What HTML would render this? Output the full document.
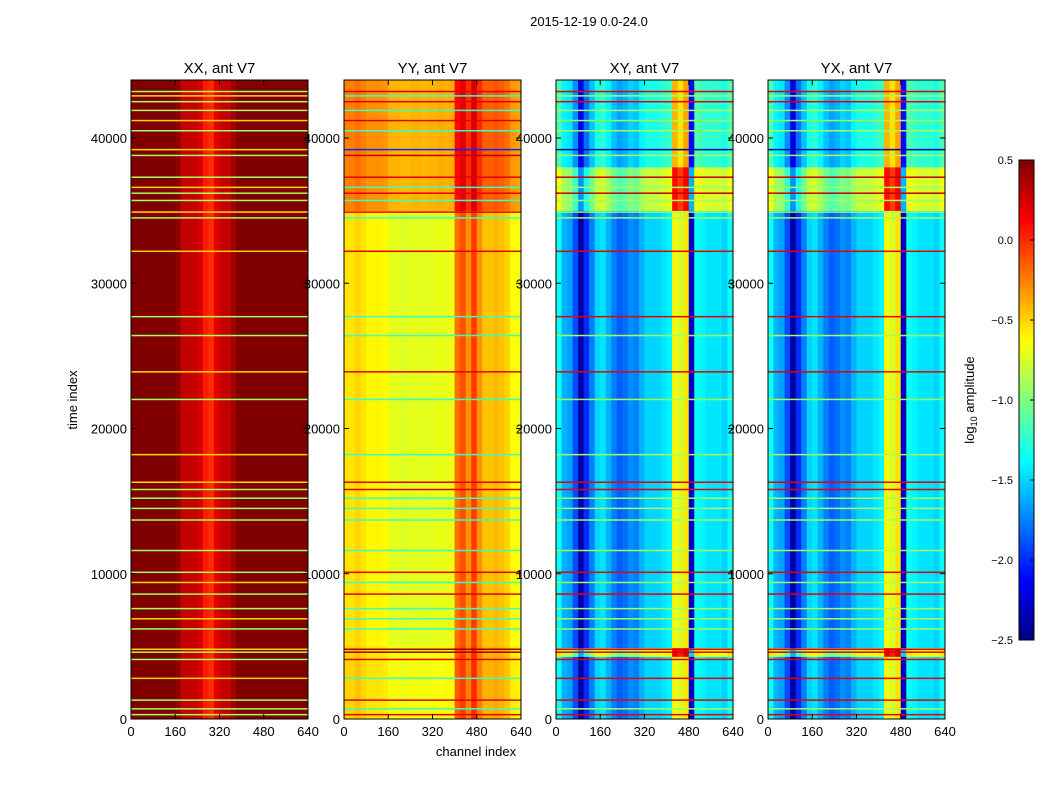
<!DOCTYPE html>
<html><head><meta charset="utf-8">
<style>
html,body{margin:0;padding:0;background:#fff;}
svg{display:block;font-family:"Liberation Sans",sans-serif;}
</style></head>
<body>
<svg id="fig" width="1050" height="800" viewBox="0 0 1050 800">
<text x="589" y="26" font-size="13" text-anchor="middle">2015-12-19 0.0-24.0</text>
<text x="77" y="400" font-size="13" text-anchor="middle" transform="rotate(-90 77 400)">time index</text>
<text x="476" y="756" font-size="13" text-anchor="middle">channel index</text>
</svg>
<script>
// ---- data ----
const panelTitles = ["XX, ant V7","YY, ant V7","XY, ant V7","YX, ant V7"];
const xTicks = [0,160,320,480,640];
const yTicks = [0,10000,20000,30000,40000];
const cbTicks = [0.5,0.0,-0.5,-1.0,-1.5,-2.0,-2.5];
const cbTickLabels = ["0.5","0.0","\u22120.5","\u22121.0","\u22121.5","\u22122.0","\u22122.5"];
// channel profiles, 32 bins of 20 channels
const profXX = [0.5,0.5,0.5,0.5,0.5,0.5,0.5,0.5,0.45,0.3,0.3,0.3,0.25,0.05,0.0,0.2,0.3,0.3,0.4,0.5,0.5,0.5,0.5,0.5,0.5,0.5,0.5,0.5,0.5,0.5,0.5,0.5];
const profYY = [-0.55,-0.55,-0.5,-0.55,-0.6,-0.6,-0.6,-0.62,-0.7,-0.7,-0.72,-0.72,-0.7,-0.7,-0.72,-0.7,-0.7,-0.68,-0.7,-0.68,-0.2,-0.1,-0.3,-0.05,-0.3,-0.45,-0.45,-0.42,-0.45,-0.5,-0.62,-0.65];
const profXY = [-1.35,-1.6,-1.65,-1.9,-2.4,-2.0,-1.75,-1.5,-1.45,-1.6,-1.75,-1.85,-1.8,-1.7,-1.75,-1.6,-1.5,-1.5,-1.5,-1.45,-1.4,-0.6,-0.75,-0.55,-2.3,-1.35,-1.4,-1.45,-1.45,-1.45,-1.5,-1.35];
const profYX = [-1.35,-1.6,-1.65,-1.9,-2.4,-2.0,-1.75,-1.5,-1.45,-1.6,-1.75,-1.85,-1.8,-1.7,-1.75,-1.6,-1.5,-1.5,-1.5,-1.45,-1.4,-0.6,-0.75,-0.55,-2.3,-1.35,-1.4,-1.45,-1.45,-1.45,-1.5,-1.35];
// time bands: start, end, offset
const bandStartXX = [], bandEndXX = [], bandOffXX = [];
const bandStartYY = [35000,0], bandEndYY = [44000,5000], bandOffYY = [0.3,0.05];
const bandStartXY = [38000,35000,4300], bandEndXY = [44000,38000,4900], bandOffXY = [0.2,0.7,0.8];
const bandStartYX = [38000,35000,4300], bandEndYX = [44000,38000,4900], bandOffYX = [0.2,0.7,0.8];
// horizontal flagged lines
const lineTimes = [43200,42900,42500,41900,41200,40500,39200,38800,37300,36600,36200,35700,34900,34500,32200,27700,26400,23900,22000,18200,16300,15800,15200,14500,13700,11600,10100,9400,8600,7600,6900,6200,4800,4600,4100,2800,1300,700,300];
const lineXX = [-0.9,-0.5,-0.9,-0.9,-0.5,-0.9,-0.5,-0.9,-0.9,-0.5,-0.9,-0.9,-0.5,-0.9,-0.5,-0.9,-0.9,-0.5,-0.9,-0.5,-0.5,-0.9,-0.9,-0.9,-0.9,-0.9,-0.9,-0.5,-0.9,-0.9,-0.5,-0.9,-0.5,-0.9,-0.9,-0.5,-0.9,-0.9,-0.9];
const lineYY = [0.2,-1.2,0.2,-1.2,0.2,-1.2,-2.0,0.3,0.2,-1.2,0.2,-1.2,0.2,-1.2,0.2,-1.2,-1.2,0.2,-1.2,-1.2,0.2,0.2,-1.2,-1.2,-1.2,-1.2,0.2,-1.2,0.2,-1.2,-1.2,-1.2,0.4,0.4,0.2,-1.2,0.2,-1.2,0.2];
const lineXY = [0.2,-0.9,0.2,-0.9,-0.9,-0.9,-2.4,-0.9,0.3,-0.9,0.3,-0.9,-0.9,-0.9,0.2,0.2,-0.9,0.2,-0.9,-0.9,0.2,0.2,-0.9,-0.9,-0.9,-0.9,0.2,-0.9,0.2,-0.9,-0.9,-0.9,0.2,0.2,0.2,0.2,0.2,-0.9,0.2];
const lineYX = [0.2,-0.9,0.2,-0.9,-0.9,-0.9,-2.4,-0.9,0.3,-0.9,0.3,-0.9,-0.9,-0.9,0.2,0.2,-0.9,0.2,-0.9,-0.9,0.2,0.2,-0.9,-0.9,-0.9,-0.9,0.2,-0.9,0.2,-0.9,-0.9,-0.9,0.2,0.2,0.2,0.2,0.2,-0.9,0.2];

const NS="http://www.w3.org/2000/svg";
const svg=document.getElementById("fig");
const vmin=-2.5, vmax=0.5;
function jet(v){
  let t=(v-vmin)/(vmax-vmin); t=Math.max(0,Math.min(1,t));
  const r=Math.max(0,Math.min(1,1.5-Math.abs(4*t-3)));
  const g=Math.max(0,Math.min(1,1.5-Math.abs(4*t-2)));
  const b=Math.max(0,Math.min(1,1.5-Math.abs(4*t-1)));
  return `rgb(${Math.round(r*255)},${Math.round(g*255)},${Math.round(b*255)})`;
}
function el(tag,attrs,parent){const e=document.createElementNS(NS,tag);for(const k in attrs)e.setAttribute(k,attrs[k]);(parent||svg).appendChild(e);return e;}

const panelX=[131,344,556,768], pw=177, py0=80, py1=719, tMax=(719-80)/145.25*10000;
const profs=[profXX,profYY,profXY,profYX];
const bands=[[bandStartXX,bandEndXX,bandOffXX],[bandStartYY,bandEndYY,bandOffYY],[bandStartXY,bandEndXY,bandOffXY],[bandStartYX,bandEndYX,bandOffYX]];
const lines=[lineXX,lineYY,lineXY,lineYX];
const names=["xx","yy","xy","yx"];

panelX.forEach((px,p)=>{
  const g=el("g",{});
  
  
  const xS=c=>px+c/640*pw;
  const yS=t=>py1-t/tMax*(py1-py0);
  const [bs,be,bo]=bands[p];
  let edges=[0,tMax];
  bs.forEach((s,i)=>{edges.push(s,Math.min(be[i],tMax));});
  edges=[...new Set(edges)].sort((a,b)=>a-b);
  for(let k=0;k<edges.length-1;k++){
    const t0=edges[k],t1=edges[k+1],tm=(t0+t1)/2;
    let off=0; bs.forEach((s,i)=>{if(tm>=s&&tm<be[i])off=bo[i];});
    profs[p].forEach((v,i)=>{
      const r=el("rect",{x:xS(i*20).toFixed(2),y:yS(t1).toFixed(2),width:(pw/32+0.4).toFixed(2),height:(yS(t0)-yS(t1)+0.3).toFixed(2),fill:jet(v+off)},g);
      
      
    });
  }
  lineTimes.forEach((t,i)=>{
    const r=el("rect",{x:px,y:(yS(t)-0.75).toFixed(2),width:pw,height:1.5,fill:jet(lines[p][i])},g);
    
    
  });
  el("rect",{x:px,y:py0,width:pw,height:py1-py0,fill:"none",stroke:"#000","stroke-width":1},g);
  const tt=el("text",{x:px+pw/2,y:73,"font-size":15,"text-anchor":"middle"},g); tt.textContent=panelTitles[p];
  
  
  xTicks.forEach(c=>{
    el("line",{x1:xS(c),x2:xS(c),y1:py1,y2:py1-5,stroke:"#000"},g);
    el("line",{x1:xS(c),x2:xS(c),y1:py0,y2:py0+5,stroke:"#000"},g);
    const l=el("text",{x:xS(c),y:py1+17,"font-size":13,"text-anchor":"middle"},g); l.textContent=c;
    
    
  });
  yTicks.forEach(t=>{
    el("line",{x1:px,x2:px+5,y1:yS(t),y2:yS(t),stroke:"#000"},g);
    el("line",{x1:px+pw,x2:px+pw-5,y1:yS(t),y2:yS(t),stroke:"#000"},g);
    const l=el("text",{x:px-4,y:yS(t)+5,"font-size":13,"text-anchor":"end"},g); l.textContent=t;
    
    
  });
});

// colorbar
const cb=el("g",{});


const cx=1019,cw=15,cy0=160,cy1=640;
const N=120;
for(let i=0;i<N;i++){
  const v=vmin+(i+0.5)/N*(vmax-vmin);
  const y=cy1-(i+1)/N*(cy1-cy0);
  el("rect",{x:cx,y:y.toFixed(2),width:cw,height:((cy1-cy0)/N+0.5).toFixed(2),fill:jet(v)},cb);
}
el("rect",{x:cx,y:cy0,width:cw,height:cy1-cy0,fill:"none",stroke:"#000"},cb);
cbTicks.forEach((v,i)=>{
  const y=cy1-(v-vmin)/(vmax-vmin)*(cy1-cy0);
  el("line",{x1:cx+cw-4,x2:cx+cw,y1:y,y2:y,stroke:"#000"},cb);
  const l=el("text",{x:1013,y:y+4,"font-size":11,"text-anchor":"end"},cb); l.textContent=cbTickLabels[i];
  
  
});
const cl=el("text",{x:974,y:400,"font-size":13,"text-anchor":"middle",transform:"rotate(-90 974 400)"},cb);
cl.innerHTML='log<tspan font-size="9" dy="3">10</tspan><tspan dy="-3"> amplitude</tspan>';


</script>
</body></html>
